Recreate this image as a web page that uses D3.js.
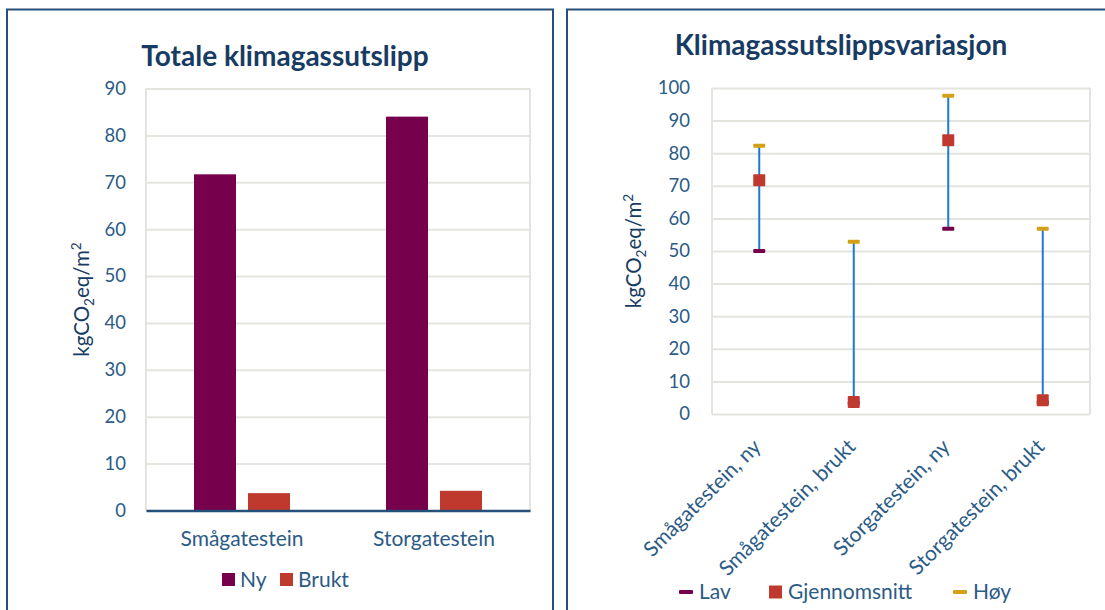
<!DOCTYPE html>
<html>
<head>
<meta charset="utf-8">
<script src="https://cdn.jsdelivr.net/npm/d3@7"></script>
<style>
  html, body { margin: 0; padding: 0; background: #fff; }
  svg { display: block; font-family: Lato, "Open Sans", sans-serif; }
</style>
</head>
<body>
<svg id="chart" width="1105" height="610"></svg>
<script>
// ---- Data ----
const categories = ["Smågatestein", "Storgatestein"];
const seriesNames = ["Ny", "Brukt"];
const nyValues = [71.7, 84.0];
const bruktValues = [3.7, 4.2];
const leftTicks = [0, 10, 20, 30, 40, 50, 60, 70, 80, 90];

const rangeCategories = ["Smågatestein, ny", "Smågatestein, brukt", "Storgatestein, ny", "Storgatestein, brukt"];
const lavValues = [50.0, 3.4, 56.8, 3.5];
const meanValues = [71.7, 3.7, 84.0, 4.2];
const hoyValues = [82.3, 52.8, 97.6, 56.8];
const rightTicks = [0, 10, 20, 30, 40, 50, 60, 70, 80, 90, 100];
const rangeLegend = ["Lav", "Gjennomsnitt", "Høy"];

// ---- Styles ----
const C = {
  frame: "#24507c",
  title: "#173b62",
  tick: "#2b5b86",
  grid: "#e4e4df",
  ny: "#76004b",
  brukt: "#c0392f",
  lav: "#76004b",
  mean: "#c0392f",
  hoy: "#d4a017",
  whisker: "#1c7ad0"
};
const TICK_SIZE = 18.5;
const TEXT_SIZE = 21;
const TITLE_SIZE = 28;

const svg = d3.select("#chart");

// Panel frames (open at the bottom / right edge of the view)
svg.append("rect").attr("x", 7).attr("y", 9.5).attr("width", 546).attr("height", 640)
  .attr("fill", "none").attr("stroke", C.frame).attr("stroke-width", 2);
svg.append("rect").attr("x", 567).attr("y", 9.5).attr("width", 600).attr("height", 640)
  .attr("fill", "none").attr("stroke", C.frame).attr("stroke-width", 2);

// y-axis title with sub/superscript
function yTitle(g, x, y) {
  const t = g.append("text")
    .attr("transform", `translate(${x},${y}) rotate(-90)`)
    .attr("text-anchor", "middle")
    .attr("fill", C.title)
    .attr("font-size", 20.5);
  t.append("tspan").text("kgCO");
  t.append("tspan").attr("font-size", 13.5).attr("dy", 4.5).text("2");
  t.append("tspan").attr("dy", -4.5).text("eq/m");
  t.append("tspan").attr("font-size", 13.5).attr("dy", -8).text("2");
}

// ================= Left chart: grouped bars =================
{
  const g = svg.append("g");
  const x0 = d3.scaleBand().domain(categories).range([146, 530]);
  const x1 = d3.scaleBand().domain(seriesNames).range([0, 96]).paddingInner(0.222);
  const y = d3.scaleLinear().domain([0, 90]).range([510.5, 88.5]);
  const color = d3.scaleOrdinal().domain(seriesNames).range([C.ny, C.brukt]);

  g.append("text").attr("x", 285).attr("y", 66).attr("text-anchor", "middle")
    .attr("font-weight", "bold").attr("font-size", TITLE_SIZE).attr("fill", C.title)
    .text("Totale klimagassutslipp");

  // gridlines
  const yAxis = d3.axisLeft(y).tickValues(leftTicks).tickSize(-(530 - 146)).tickPadding(20);
  const ya = g.append("g").attr("transform", "translate(146,0)").call(yAxis);
  ya.select(".domain").remove();
  ya.selectAll(".tick line").attr("stroke", C.grid).attr("stroke-width", 2);
  ya.selectAll(".tick text").attr("fill", C.tick).attr("font-size", TICK_SIZE)
    .attr("font-family", "Lato, sans-serif");
  // plot frame sides
  g.append("line").attr("x1", 146).attr("x2", 146).attr("y1", 88.5).attr("y2", 510.5)
    .attr("stroke", C.grid).attr("stroke-width", 2);
  g.append("line").attr("x1", 530).attr("x2", 530).attr("y1", 88.5).attr("y2", 510.5)
    .attr("stroke", C.grid).attr("stroke-width", 2);

  const rows = categories.map((c, i) => ({ cat: c, vals: [nyValues[i], bruktValues[i]] }));
  const groups = g.selectAll("g.grp").data(rows).join("g").attr("class", "grp")
    .attr("transform", d => `translate(${x0(d.cat) + (x0.bandwidth() - 96) / 2},0)`);
  groups.selectAll("rect").data(d => d.vals.map((v, j) => ({ s: seriesNames[j], v })))
    .join("rect")
    .attr("x", d => x1(d.s)).attr("width", x1.bandwidth())
    .attr("y", d => y(d.v)).attr("height", d => y(0) - y(d.v))
    .attr("fill", d => color(d.s));

  // category axis
  const xa = g.append("g").attr("transform", `translate(0,${y(0)})`)
    .call(d3.axisBottom(x0).tickSize(0).tickPadding(21));
  xa.select(".domain").attr("stroke", C.frame).attr("stroke-width", 2.5);
  xa.selectAll(".tick text").attr("fill", C.tick).attr("font-size", TEXT_SIZE)
    .attr("font-family", "Lato, sans-serif");

  yTitle(g, 89, 299.5);

  // legend
  const lg = g.append("g");
  const items = [{ n: "Ny", x: 222 }, { n: "Brukt", x: 280 }];
  items.forEach(it => {
    lg.append("rect").attr("x", it.x).attr("y", 573).attr("width", 13).attr("height", 13)
      .attr("fill", color(it.n));
    lg.append("text").attr("x", it.x + 18).attr("y", 586.5).attr("fill", C.tick)
      .attr("font-size", TEXT_SIZE).text(it.n);
  });
}

// ================= Right chart: low / mean / high =================
{
  const g = svg.append("g");
  const x = d3.scaleBand().domain(rangeCategories).range([712, 1090]);
  const y = d3.scaleLinear().domain([0, 100]).range([414, 88]);

  g.append("text").attr("x", 841).attr("y", 55).attr("text-anchor", "middle")
    .attr("font-weight", "bold").attr("font-size", TITLE_SIZE).attr("fill", C.title)
    .text("Klimagassutslippsvariasjon");

  const ya = g.append("g").attr("transform", "translate(712,0)")
    .call(d3.axisLeft(y).tickValues(rightTicks).tickSize(-(1090 - 712)).tickPadding(22));
  ya.select(".domain").remove();
  ya.selectAll(".tick line").attr("stroke", C.grid).attr("stroke-width", 2);
  ya.selectAll(".tick text").attr("fill", C.tick).attr("font-size", TICK_SIZE)
    .attr("font-family", "Lato, sans-serif");
  [712, 1090].forEach(px => g.append("line").attr("x1", px).attr("x2", px)
    .attr("y1", 88).attr("y2", 414).attr("stroke", C.grid).attr("stroke-width", 2));

  const rows = rangeCategories.map((c, i) => ({ cat: c, lo: lavValues[i], mean: meanValues[i], hi: hoyValues[i] }));
  const cx = d => x(d.cat) + x.bandwidth() / 2;

  g.selectAll("line.whisker").data(rows).join("line").attr("class", "whisker")
    .attr("x1", cx).attr("x2", cx).attr("y1", d => y(d.lo)).attr("y2", d => y(d.hi))
    .attr("stroke", C.whisker).attr("stroke-width", 2);
  g.selectAll("rect.lav").data(rows).join("rect").attr("class", "lav")
    .attr("x", d => cx(d) - 6).attr("y", d => y(d.lo) - 2).attr("width", 12).attr("height", 4)
    .attr("rx", 1).attr("fill", C.lav);
  g.selectAll("rect.hoy").data(rows).join("rect").attr("class", "hoy")
    .attr("x", d => cx(d) - 6).attr("y", d => y(d.hi) - 2).attr("width", 12).attr("height", 4)
    .attr("rx", 1).attr("fill", C.hoy);
  g.selectAll("rect.mean").data(rows).join("rect").attr("class", "mean")
    .attr("x", d => cx(d) - 6).attr("y", d => y(d.mean) - 6).attr("width", 12).attr("height", 12)
    .attr("rx", 1).attr("fill", C.mean);

  // rotated category labels
  g.selectAll("text.cat").data(rangeCategories).join("text").attr("class", "cat")
    .attr("transform", d => `translate(${x(d) + x.bandwidth() / 2 + 3},${448}) rotate(-45)`)
    .attr("text-anchor", "end").attr("fill", C.tick).attr("font-size", TEXT_SIZE)
    .text(d => d);

  yTitle(g, 641, 251);

  // legend
  const lg = g.append("g");
  const colors = [C.lav, C.mean, C.hoy];
  const xs = [679, 769, 953];
  rangeLegend.forEach((n, i) => {
    if (i === 1) {
      lg.append("rect").attr("x", xs[i]).attr("y", 585.5).attr("width", 13).attr("height", 13)
        .attr("fill", colors[i]);
    } else {
      lg.append("rect").attr("x", xs[i]).attr("y", 590).attr("width", 14).attr("height", 4)
        .attr("rx", 1).attr("fill", colors[i]);
    }
    lg.append("text").attr("x", xs[i] + (i === 1 ? 19 : 20)).attr("y", 599).attr("fill", C.tick)
      .attr("font-size", TEXT_SIZE).text(n);
  });
}
</script>
</body>
</html>
